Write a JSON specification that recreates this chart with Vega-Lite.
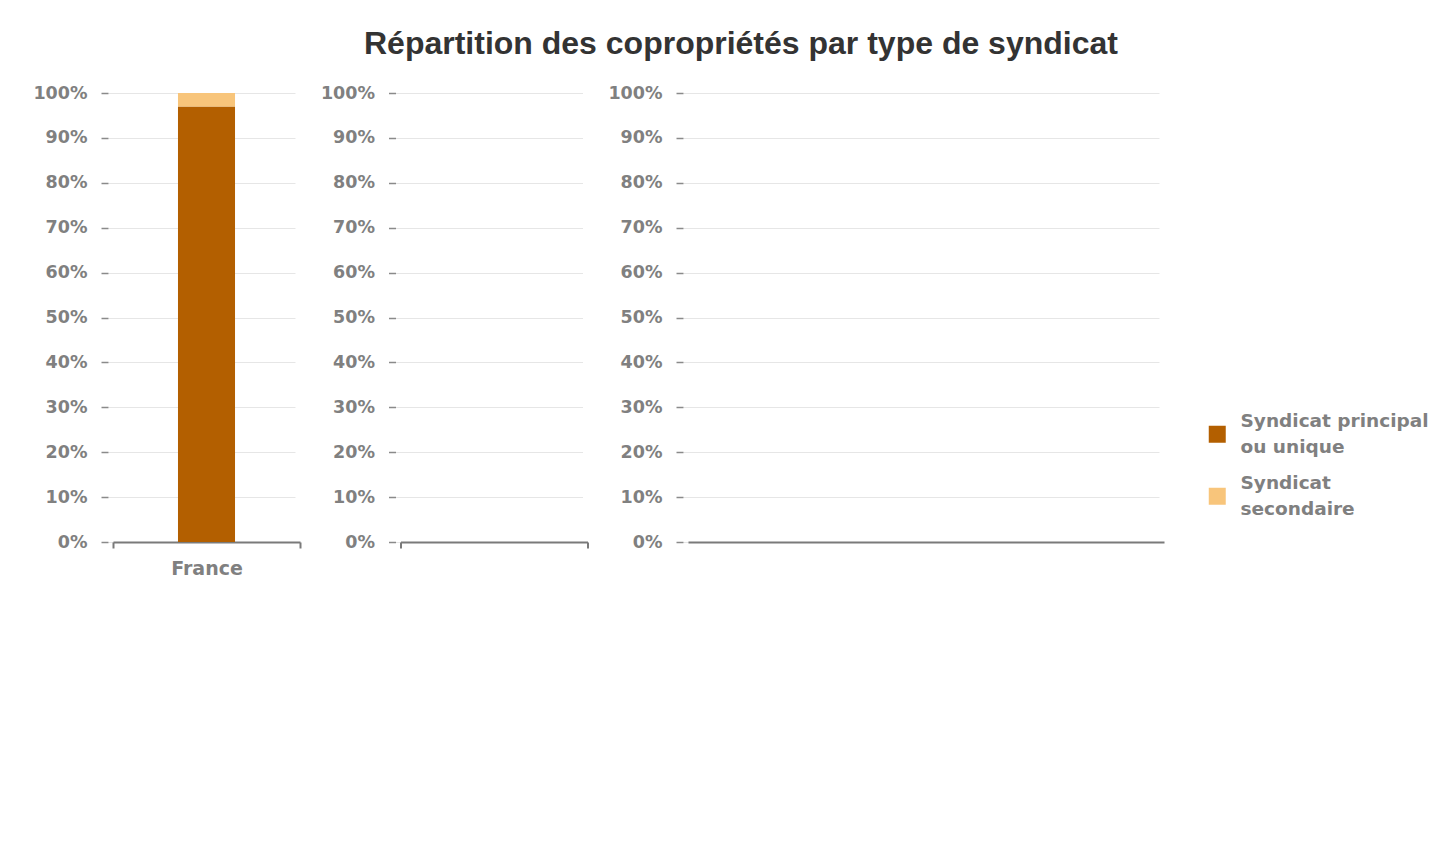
{
  "$schema": "https://vega.github.io/schema/vega-lite/v6.json",
  "background": "white",
  "padding": {"left": 32, "top": 28, "right": 0, "bottom": 0},
  "title": {
    "text": "Répartition des copropriétés par type de syndicat",
    "font": "Liberation Sans",
    "fontSize": 32,
    "fontWeight": "bold",
    "color": "#333333",
    "anchor": "middle",
    "dx": 10,
    "offset": 23
  },
  "datasets": {
    "syndicats": [
      {"pays": "France", "type": "Syndicat principal ou unique", "part": 0.97},
      {"pays": "France", "type": "Syndicat secondaire", "part": 0.03}
    ]
  },
  "spacing": 18.5,
  "config": {
    "view": {"stroke": null},
    "style": {"guide-label": {"lineHeight": 26}},
    "axisY": {
      "grid": true,
      "gridColor": "#e6e6e6",
      "gridWidth": 1,
      "domain": false,
      "ticks": true,
      "tickSize": 7,
      "tickColor": "#8a8a8a",
      "tickWidth": 1.5,
      "offset": 5,
      "labelPadding": 14,
      "labelFont": "DejaVu Sans",
      "labelFontWeight": "bold",
      "labelFontSize": 17.5,
      "labelColor": "#808080",
      "values": [0, 0.1, 0.2, 0.3, 0.4, 0.5, 0.6, 0.7, 0.8, 0.9, 1],
      "format": ".0%",
      "title": null
    },
    "axisX": {
      "grid": false,
      "domain": true,
      "domainColor": "#7a7a7a",
      "domainWidth": 2,
      "tickColor": "#7a7a7a",
      "tickWidth": 2,
      "tickSize": 6,
      "title": null,
      "labelAngle": 0,
      "labelFont": "DejaVu Sans",
      "labelFontWeight": "bold",
      "labelFontSize": 19,
      "labelColor": "#808080",
      "labelPadding": 11
    }
  },
  "hconcat": [
    {
      "width": 187,
      "height": 449,
      "data": {"name": "syndicats"},
      "mark": {"type": "bar", "width": {"band": 0.305}},
      "encoding": {
        "x": {
          "field": "pays",
          "type": "nominal",
          "scale": {"paddingInner": 0, "paddingOuter": 0},
          "axis": {"tickBand": "extent"}
        },
        "y": {
          "field": "part",
          "type": "quantitative",
          "stack": "zero",
          "scale": {"domain": [0, 1]}
        },
        "color": {
          "field": "type",
          "type": "nominal",
          "scale": {
            "domain": ["Syndicat principal ou unique", "Syndicat secondaire"],
            "range": ["#b35f00", "#f8c57b"]
          },
          "legend": {
            "title": null,
            "orient": "none",
            "legendX": 1095,
            "legendY": 332,
            "symbolType": "square",
            "symbolSize": 289,
            "symbolStrokeWidth": 0,
            "labelFont": "DejaVu Sans",
            "labelFontWeight": "bold",
            "labelFontSize": 18.5,
            "labelColor": "#808080",
            "labelLimit": 400,
            "labelOffset": 14,
            "rowPadding": 17,
            "labelExpr": "datum.label == 'Syndicat principal ou unique' ? ['Syndicat principal', 'ou unique'] : ['Syndicat', 'secondaire']",
            "encode": {"labels": {"update": {"dy": {"value": -13}}}}
          }
        },
        "order": {"field": "type", "sort": "ascending"}
      }
    },
    {
      "width": 187,
      "height": 449,
      "data": {"name": "syndicats"},
      "transform": [{"filter": "datum.pays == 'Aucun'"}],
      "mark": {"type": "bar"},
      "encoding": {
        "x": {
          "field": "pays",
          "type": "nominal",
          "scale": {"domain": ["-"], "paddingInner": 0, "paddingOuter": 0},
          "axis": {"tickBand": "extent", "labels": false}
        },
        "y": {
          "field": "part",
          "type": "quantitative",
          "scale": {"domain": [0, 1]}
        }
      }
    },
    {
      "width": 476,
      "height": 449,
      "data": {"name": "syndicats"},
      "transform": [{"filter": "datum.pays == 'Aucun'"}],
      "mark": {"type": "bar"},
      "encoding": {
        "x": {
          "field": "pays",
          "type": "nominal",
          "scale": {"domain": ["-"], "paddingInner": 0, "paddingOuter": 0},
          "axis": {"ticks": false, "labels": false}
        },
        "y": {
          "field": "part",
          "type": "quantitative",
          "scale": {"domain": [0, 1]}
        }
      }
    }
  ]
}
